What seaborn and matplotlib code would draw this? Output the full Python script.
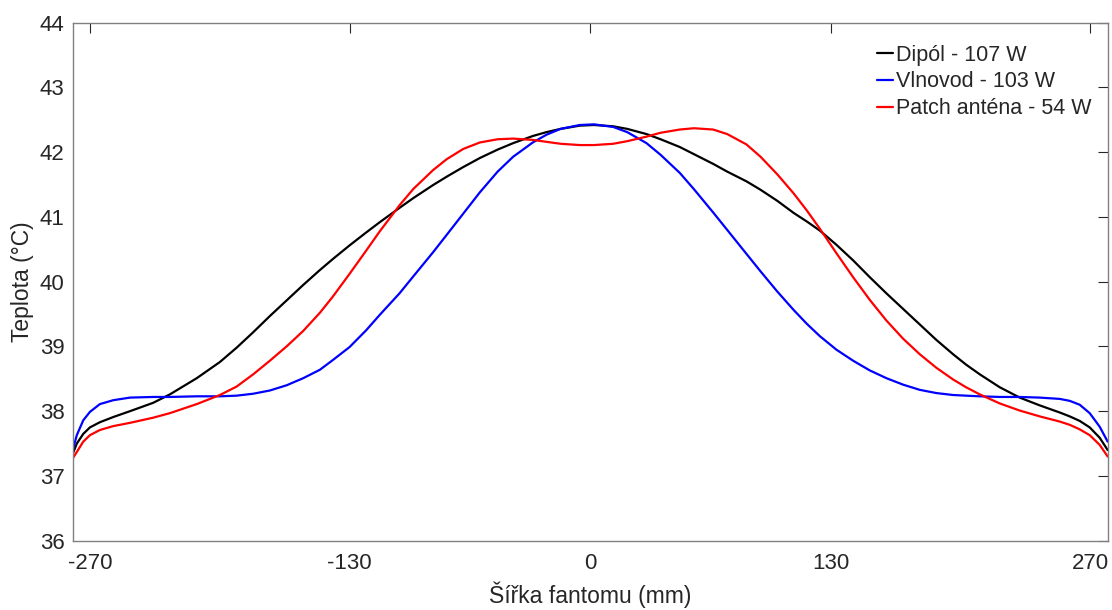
import matplotlib
matplotlib.use("Agg")
import matplotlib.pyplot as plt
import seaborn as sns
import pandas as pd

x_mm = [-279.5, -277.3, -273.8, -270.2, -264.8, -257.6, -248.6, -236, -227, -212.5,
        -200, -191, -182, -173, -164, -155, -146, -139, -130, -121, -113.6, -103,
        -95.6, -85, -77.6, -68.6, -59.6, -50, -41.6, -31, -23.6, -16, -5.6, 2, 12.4,
        20, 30.4, 38, 48.4, 56, 66.4, 74, 84.4, 92, 101, 110, 117, 124, 133, 142,
        151, 160, 169, 178, 187, 196, 203, 210.4, 221.2, 232, 242.8, 253.6, 259,
        264.4, 269.8, 275.2, 279.5]

dipol = [37.34, 37.50, 37.65, 37.75, 37.83, 37.91, 38.00, 38.13, 38.26, 38.51,
         38.76, 38.98, 39.22, 39.47, 39.71, 39.95, 40.18, 40.35, 40.56, 40.76, 40.92, 41.14,
         41.29, 41.49, 41.62, 41.77, 41.91, 42.04, 42.14, 42.25, 42.31, 42.36, 42.41, 42.42, 42.40,
         42.36, 42.28, 42.20, 42.08, 41.97, 41.82, 41.70, 41.55, 41.42, 41.25, 41.06, 40.93, 40.79, 40.57, 40.33,
         40.07, 39.82, 39.58, 39.34, 39.10, 38.88, 38.72, 38.57, 38.37, 38.21, 38.09, 37.98, 37.92,
         37.85, 37.75, 37.59, 37.40]

vlnovod = [37.40, 37.63, 37.86, 37.99, 38.11, 38.17, 38.21, 38.22, 38.22, 38.23,
           38.23, 38.24, 38.27, 38.32, 38.40, 38.51, 38.64, 38.79, 38.99, 39.25, 39.49, 39.82,
           40.08, 40.45, 40.72, 41.05, 41.38, 41.70, 41.93, 42.15, 42.27, 42.36, 42.42, 42.43, 42.39,
           42.31, 42.14, 41.96, 41.68, 41.43, 41.07, 40.80, 40.43, 40.16, 39.85, 39.56, 39.35, 39.16, 38.95, 38.78,
           38.63, 38.51, 38.41, 38.33, 38.28, 38.25, 38.24, 38.23, 38.22, 38.22, 38.21, 38.19, 38.16,
           38.10, 37.97, 37.76, 37.53]

patch = [37.27, 37.37, 37.53, 37.63, 37.71, 37.77, 37.82, 37.90, 37.97, 38.11,
         38.25, 38.38, 38.57, 38.78, 39.00, 39.24, 39.52, 39.77, 40.12, 40.48, 40.78, 41.18,
         41.43, 41.72, 41.89, 42.05, 42.15, 42.20, 42.21, 42.19, 42.16, 42.13, 42.11, 42.11, 42.13,
         42.17, 42.24, 42.30, 42.35, 42.37, 42.35, 42.28, 42.12, 41.93, 41.66, 41.36, 41.10, 40.82, 40.44, 40.07,
         39.72, 39.40, 39.12, 38.88, 38.67, 38.49, 38.37, 38.26, 38.12, 38.01, 37.92, 37.84, 37.79,
         37.72, 37.63, 37.48, 37.30]

series_names = ["Dipól - 107 W", "Vlnovod - 103 W", "Patch anténa - 54 W"]
series_colors = ["#000000", "#0000ff", "#ff0000"]
x_ticks = [-270, -130, 0, 130, 270]
y_ticks = [36, 37, 38, 39, 40, 41, 42, 43, 44]

frames = []
for name, vals in zip(series_names, [dipol, vlnovod, patch]):
    frames.append(pd.DataFrame({"x": x_mm, "y": vals, "s": name}))
df = pd.concat(frames, ignore_index=True)

sns.set_style("white")
plt.rcParams["font.family"] = ["Liberation Sans", "DejaVu Sans"]
plt.rcParams["axes.unicode_minus"] = False

fig = plt.figure(figsize=(11.12, 6.10), dpi=100)
ax = fig.add_axes([0.0654, 0.1136, 0.9307, 0.8492])

sns.lineplot(data=df, x="x", y="y", hue="s", hue_order=series_names,
             palette=series_colors, linewidth=1.6, sort=False, ax=ax)

ax.set_xlim(-279.5, 279.5)
ax.set_ylim(36, 44)
ax.set_xticks(x_ticks)
ax.set_yticks(y_ticks)
ax.tick_params(direction="in", length=7, width=0.8, colors="#262626",
               labelsize=16, top=True, right=True, labeltop=False, labelright=False,
               pad=6)
ax.tick_params(axis="x", pad=9)
for sp in ax.spines.values():
    sp.set_visible(True)
    sp.set_color("#808080")
    sp.set_linewidth(1.0)

ax.set_xlabel("Šířka fantomu (mm)", fontsize=16.5, color="#262626", labelpad=5)
ax.set_ylabel("Teplota (°C)", fontsize=16.5, color="#262626", labelpad=4)

leg = ax.legend(loc="upper right", bbox_to_anchor=(0.993, 0.9745), frameon=False,
                fontsize=15.5, handlelength=0.75, handletextpad=0.15,
                labelspacing=0.27, borderaxespad=0.0)
for t in leg.get_texts():
    t.set_color("#262626")

fig.savefig("out.png", dpi=100)
